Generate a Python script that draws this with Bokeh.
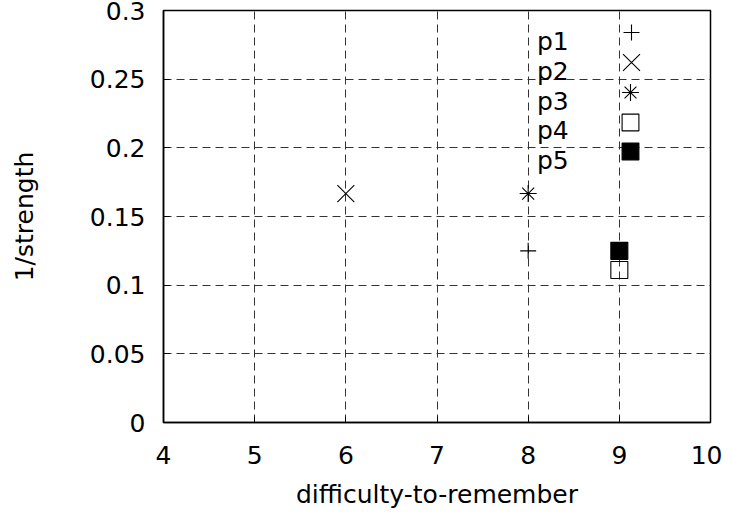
from bokeh.plotting import figure
from bokeh.models import FixedTicker, Legend, LegendItem, Label
from bokeh.embed import file_html
from bokeh.resources import INLINE

# ---- data ----
series = ["p1", "p2", "p3", "p4", "p5"]
difficulty = [8, 6, 8, 9, 9]
inv_strength = [0.125, 0.1667, 0.1667, 0.111, 0.125]

x_ticks = [4, 5, 6, 7, 8, 9, 10]
y_ticks = [0, 0.05, 0.1, 0.15, 0.2, 0.25, 0.3]
y_tick_labels = ["0", "0.05", "0.1", "0.15", "0.2", "0.25", "0.3"]

# ---- styles ----
markers = ["cross", "x", "asterisk", "square", "square"]
fill_colors = [None, None, None, None, "black"]
sizes = [16, 24, 17, 17, 17]

FONT = "DejaVu Sans"
FS = "25px"

FRAME_H = 412
p = figure(width=722, height=516, x_range=(4, 10), y_range=(0, 0.3),
           output_backend="svg", toolbar_location=None,
           min_border_left=163, min_border_right=12,
           min_border_top=10, min_border_bottom=94)

p.background_fill_color = "white"
p.border_fill_color = "white"
p.outline_line_color = "black"
p.outline_line_width = 1.5
p.outline_line_alpha = 1.0

p.xaxis.ticker = FixedTicker(ticks=x_ticks)
p.yaxis.ticker = FixedTicker(ticks=y_ticks)
p.yaxis.major_label_overrides = {t: l for t, l in zip(y_ticks, y_tick_labels)}

for ax in (p.xaxis, p.yaxis):
    ax.major_tick_in = 6
    ax.major_tick_out = 0
    ax.minor_tick_in = 0
    ax.minor_tick_out = 0
    ax.axis_line_color = "black"
    ax.axis_line_width = 1.5
    ax.major_tick_line_color = "black"
    ax.major_label_text_font = FONT
    ax.major_label_text_font_size = FS
    ax.major_label_text_color = "black"
    ax.axis_label_text_font = FONT
    ax.axis_label_text_font_size = FS
    ax.axis_label_text_font_style = "normal"
    ax.axis_label_text_color = "black"

p.xaxis.axis_label = "difficulty-to-remember"
p.yaxis.axis_label = "1/strength"
p.xaxis.major_label_standoff = 23
p.xaxis.axis_label_standoff = 13
p.yaxis.major_label_standoff = 18
p.yaxis.axis_label_standoff = 48

for g in (p.xgrid, p.ygrid):
    g.grid_line_color = "#333333"
    g.grid_line_dash = "8 5"
    g.grid_line_width = 1
    g.grid_line_alpha = 1.0

# legend: text on the left, symbol on the right (gnuplot style)
ROW = 29.75
SYM_X = 467.5      # symbol centre, px from frame left
SYM_Y0 = 22.0      # first symbol centre, px from frame top
for i, name in enumerate(series):
    r = p.scatter([difficulty[i]], [inv_strength[i]], marker=markers[i],
                  size=sizes[i], line_color="black", line_width=1.1,
                  fill_color=fill_colors[i])
    box = sizes[i] / 0.4   # legend glyphs are drawn at 0.4 x box size
    cy = SYM_Y0 + ROW * i
    lg = Legend(items=[LegendItem(label="", renderers=[r])],
                location=(SYM_X - box / 2, FRAME_H - cy - box / 2),
                glyph_width=int(round(box)), glyph_height=int(round(box)),
                spacing=0, label_standoff=0, padding=0, margin=0,
                label_text_font_size="1px",
                border_line_color=None, background_fill_alpha=0)
    p.add_layout(lg)
    p.add_layout(Label(x=373.5, y=FRAME_H - 31 - ROW * i,
                       x_units="screen", y_units="screen", text=name,
                       text_font=FONT, text_font_size=FS, text_color="black",
                       text_baseline="alphabetic", text_align="left"))

open("out.html", "w").write(file_html(p, INLINE))
